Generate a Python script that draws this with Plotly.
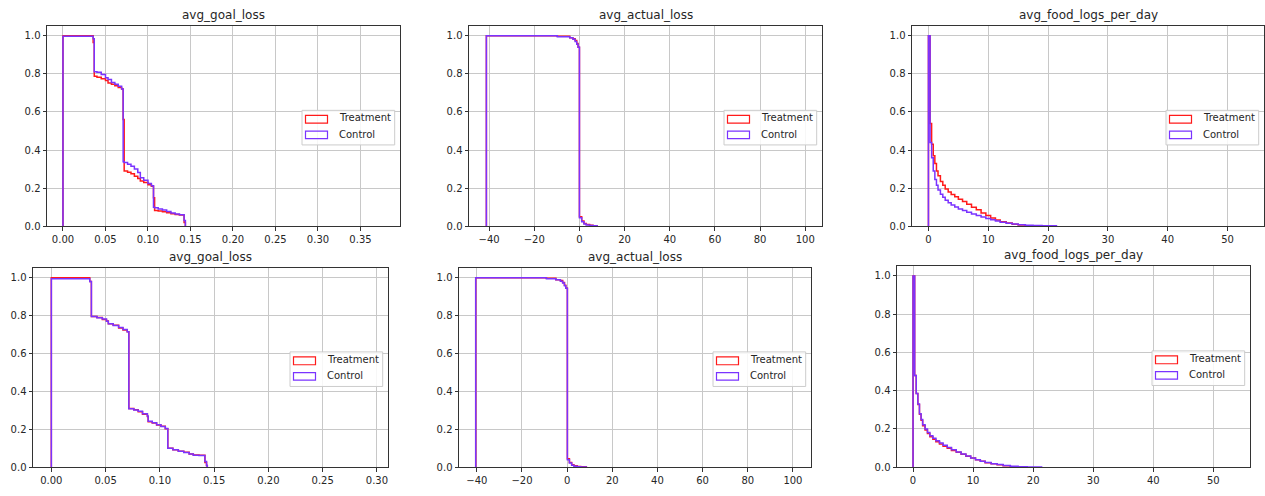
import plotly.graph_objects as go

W, H = 1265, 496

# ------------------------------------------------------------------ data
titles = ["avg_goal_loss", "avg_actual_loss", "avg_food_logs_per_day",
          "avg_goal_loss", "avg_actual_loss", "avg_food_logs_per_day"]
series_names = ["Treatment", "Control"]

# --- top row: avg_goal_loss (reverse cumulative step histogram)
goal_edges_top = [0, 0.0355, 0.0368, 0.040, 0.045, 0.050, 0.053, 0.057, 0.061, 0.065,
                  0.0690, 0.0708, 0.0720, 0.076, 0.080, 0.084, 0.088, 0.091, 0.095, 0.100,
                  0.104, 0.1065, 0.1078, 0.112, 0.117, 0.122, 0.127, 0.132, 0.137, 0.1425,
                  0.1440]
goal_treat_top = [1.0, 0.965, 0.787, 0.782, 0.775, 0.765, 0.752, 0.745, 0.737, 0.728,
                  0.72, 0.56, 0.29, 0.283, 0.275, 0.262, 0.25, 0.238, 0.23, 0.218,
                  0.21, 0.15, 0.083, 0.08, 0.076, 0.071, 0.066, 0.062, 0.059, 0.02]
goal_ctrl_top = [0.997, 0.985, 0.811, 0.808, 0.797, 0.78, 0.77, 0.755, 0.745, 0.735,
                 0.72, 0.338, 0.335, 0.325, 0.315, 0.30, 0.282, 0.255, 0.242, 0.225,
                 0.212, 0.10, 0.097, 0.09, 0.085, 0.077, 0.07, 0.064, 0.06, 0.03]

# --- top row: avg_actual_loss
actual_edges_top = [-41.2, -9.8, -4.3, -2.9, -1.9, -1.2, -0.6, 0.0, 1.0, 2.0, 3.0, 4.5, 6.0, 7.8]
actual_treat_top = [1.0, 0.997, 0.99, 0.985, 0.975, 0.96, 0.94, 0.05, 0.028, 0.015, 0.009, 0.005, 0.003]
actual_ctrl_top = [1.0, 0.995, 0.99, 0.982, 0.97, 0.955, 0.94, 0.045, 0.024, 0.012, 0.007, 0.004, 0.003]

# --- food logs bins (shared by both rows)
food_edges = [0, 0.27, 0.53, 0.8, 1.07, 1.34, 1.6, 2.0, 2.4, 2.8, 3.3, 3.8, 4.4, 5.0, 5.7,
              6.4, 7.2, 8.0, 8.8, 9.6, 10.4, 11.2, 12.0, 13.0, 14.0, 15.0, 16.2, 17.5, 19.0,
              20.3, 21.4]
food_treat_top = [1.0, 0.54, 0.43, 0.37, 0.33, 0.29, 0.265, 0.235, 0.215, 0.195, 0.18,
                  0.167, 0.155, 0.142, 0.13, 0.115, 0.10, 0.086, 0.07, 0.056, 0.043,
                  0.033, 0.024, 0.017, 0.011, 0.006]
food_ctrl_top = [1.0, 0.44, 0.36, 0.29, 0.245, 0.215, 0.19, 0.168, 0.152, 0.137, 0.123,
                 0.112, 0.101, 0.091, 0.082, 0.073, 0.064, 0.056, 0.048, 0.041, 0.034,
                 0.027, 0.021, 0.016, 0.012, 0.008, 0.005, 0.004, 0.003, 0.003]

# --- bottom row: avg_goal_loss
goal_edges_bot = [0, 0.0354, 0.0369, 0.042, 0.047, 0.0508, 0.0525, 0.057, 0.062, 0.066,
                  0.0699, 0.0714, 0.076, 0.080, 0.084, 0.0885, 0.0892, 0.093, 0.097, 0.101,
                  0.105, 0.1073, 0.112, 0.117, 0.122, 0.127, 0.1308, 0.136, 0.1415, 0.143,
                  0.1437]
goal_treat_bot = [1.0, 0.98, 0.795, 0.79, 0.78, 0.772, 0.757, 0.75, 0.735, 0.725,
                  0.715, 0.31, 0.303, 0.293, 0.28, 0.268, 0.24, 0.233, 0.223, 0.216,
                  0.203, 0.10, 0.093, 0.084, 0.079, 0.07, 0.065, 0.063, 0.025, 0.01]
goal_ctrl_bot = [0.995, 0.98, 0.795, 0.789, 0.782, 0.77, 0.758, 0.748, 0.737, 0.727,
                 0.715, 0.309, 0.302, 0.295, 0.282, 0.27, 0.243, 0.235, 0.225, 0.215,
                 0.205, 0.10, 0.092, 0.085, 0.078, 0.07, 0.064, 0.062, 0.03, 0.01]

# --- bottom row: avg_actual_loss
actual_edges_bot = [-40.5, -9.2, -5.0, -3.0, -2.0, -1.2, -0.6, 0.1, 1.0, 2.0, 3.0, 4.5, 6.0, 8.5]
actual_treat_bot = [1.0, 0.997, 0.99, 0.985, 0.975, 0.96, 0.945, 0.045, 0.025, 0.013, 0.008, 0.004, 0.003]
actual_ctrl_bot = [1.0, 0.995, 0.99, 0.982, 0.972, 0.958, 0.945, 0.04, 0.022, 0.011, 0.006, 0.003, 0.002]

# --- bottom row: avg_food_logs_per_day
food_treat_bot = [1.0, 0.48, 0.385, 0.328, 0.277, 0.246, 0.217, 0.195, 0.177, 0.16, 0.147,
                  0.134, 0.122, 0.11, 0.099, 0.088, 0.078, 0.068, 0.058, 0.048, 0.039,
                  0.031, 0.024, 0.018, 0.013, 0.008]
food_ctrl_bot = [1.0, 0.48, 0.385, 0.33, 0.28, 0.25, 0.222, 0.20, 0.182, 0.165, 0.152,
                 0.139, 0.127, 0.115, 0.103, 0.091, 0.08, 0.07, 0.059, 0.049, 0.04,
                 0.032, 0.025, 0.019, 0.014, 0.009, 0.005, 0.003, 0.002, 0.002]

panels = [
    (goal_edges_top, goal_treat_top, goal_ctrl_top),
    (actual_edges_top, actual_treat_top, actual_ctrl_top),
    (food_edges, food_treat_top, food_ctrl_top),
    (goal_edges_bot, goal_treat_bot, goal_ctrl_bot),
    (actual_edges_bot, actual_treat_bot, actual_ctrl_bot),
    (food_edges, food_treat_bot, food_ctrl_bot),
]

# ------------------------------------------------------------------ layout (pixels)
axes_px = [  # x0, x1, ytop, ybottom
    (47, 400, 26, 229),
    (469, 822, 26, 229),
    (912, 1264, 26, 229),
    (33, 388, 271, 473),
    (459, 811, 271, 473),
    (897, 1250, 269, 473),
]
x_ranges = [[-0.0188, 0.3965], [-48.9, 107.4], [-2.75, 56.1],
            [-0.0169, 0.3102], [-47.9, 108.0], [-2.67, 56.1]]
x_dticks = [0.05, 20, 10, 0.05, 20, 10]
x_formats = [".2f", "d", "d", ".2f", "d", "d"]

RED = "#ff1a1a"
PURPLE = "#7a33ff"
colors = [RED, PURPLE]
TXT = "#262626"
FONT = "DejaVu Sans"


def px(x):
    return x / W


def py(y):
    return 1 - y / H


def step_xy(edges, values):
    n = len(values)
    xs = [edges[0]] + list(edges[:n + 1])
    ys = [0] + list(values) + [0]
    return xs, ys


fig = go.Figure()
shapes = []
annotations = []

for i, (edges, treat, ctrl) in enumerate(panels):
    k = "" if i == 0 else str(i + 1)
    xa, ya = "x" + k, "y" + k
    for s, vals in enumerate([treat, ctrl]):
        xs, ys = step_xy(edges, vals)
        fig.add_trace(go.Scatter(x=xs, y=ys, mode="lines", line_shape="hv",
                                 line=dict(color=colors[s], width=1.5),
                                 name=series_names[s], showlegend=False,
                                 xaxis=xa, yaxis=ya, hoverinfo="skip"))
    x0, x1, yt, yb = axes_px[i]
    common = dict(showline=True, mirror=True, linecolor="#333333", linewidth=1,
                  showgrid=True, gridcolor="#c8c8c8", gridwidth=1, zeroline=False,
                  ticks="outside", ticklen=3.5, tickwidth=1, tickcolor="#333333",
                  tickfont=dict(family=FONT, size=10, color=TXT))
    fig.update_layout(**{
        "xaxis" + k: dict(domain=[px(x0), px(x1)], range=x_ranges[i], anchor=ya,
                          dtick=x_dticks[i], tick0=0, tickformat=x_formats[i], **common),
        "yaxis" + k: dict(domain=[py(yb), py(yt)], range=[0, 1.053], anchor=xa,
                          dtick=0.2, tick0=0, tickformat=".1f", **common),
    })
    # title
    annotations.append(dict(text=titles[i], x=px((x0 + x1) / 2), y=py(yt), xref="paper",
                            yref="paper", xanchor="center", yanchor="bottom", yshift=2,
                            showarrow=False, font=dict(family=FONT, size=12, color=TXT)))
    # legend (center right)
    right = x1 - 5.3
    left = right - 92.7
    cy = (yt + yb) / 2 + 1.7
    top = cy - 17.5
    bottom = cy + 17.5
    shapes.append(dict(type="rect", xref="paper", yref="paper", x0=px(left), x1=px(right),
                       y0=py(bottom), y1=py(top), line=dict(color="#cccccc", width=1),
                       fillcolor="rgba(255,255,255,0.85)", layer="above"))
    for s, (hy0, hy1, ty) in enumerate([(5, 13, 7.6), (21, 28.6, 24.3)]):
        shapes.append(dict(type="rect", xref="paper", yref="paper",
                           x0=px(left + 3.5), x1=px(left + 25.5),
                           y0=py(top + hy1), y1=py(top + hy0),
                           line=dict(color=colors[s], width=1.2),
                           fillcolor="rgba(0,0,0,0)", layer="above"))
        annotations.append(dict(text=series_names[s], x=px(left + 35), y=py(top + ty),
                                xref="paper", yref="paper", xanchor="left", yanchor="middle",
                                showarrow=False, font=dict(family=FONT, size=10, color=TXT)))

fig.update_layout(width=W, height=H, margin=dict(l=0, r=0, t=0, b=0),
                  paper_bgcolor="white", plot_bgcolor="white",
                  shapes=shapes, annotations=annotations, showlegend=False,
                  font=dict(family=FONT, color=TXT))

fig.write_html("out.html")
